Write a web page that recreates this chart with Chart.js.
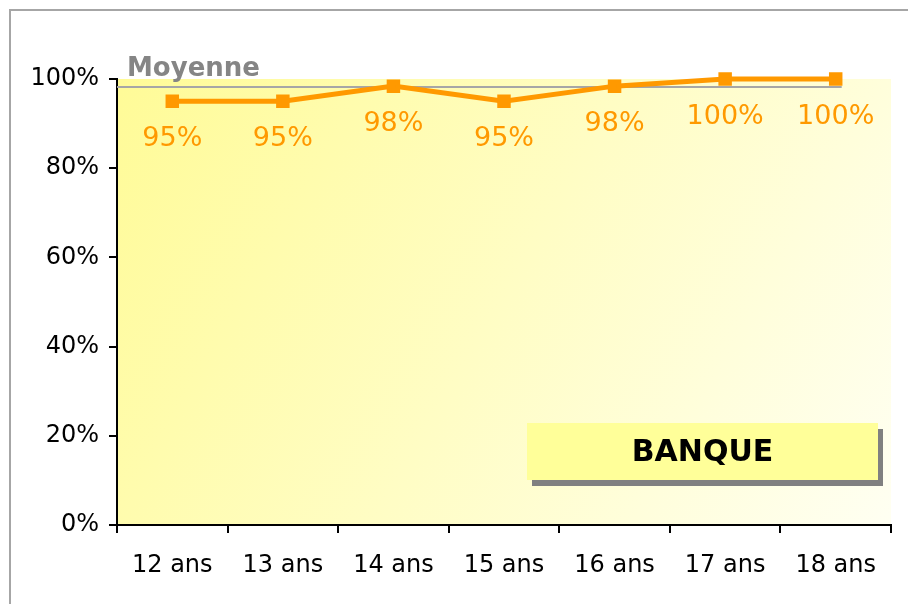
<!DOCTYPE html>
<html>
<head>
<meta charset="utf-8">
<script src="https://cdn.jsdelivr.net/npm/chart.js@4.4.1/dist/chart.umd.min.js"></script>
<style>
  html, body { margin: 0; padding: 0; background: #fff; }
  #wrap { width: 908px; height: 604px; position: relative; }
</style>
</head>
<body>
<div id="wrap"><canvas id="chart" width="908" height="604"></canvas></div>
<script>
const categories = ["12 ans", "13 ans", "14 ans", "15 ans", "16 ans", "17 ans", "18 ans"];
const tauxBanque = [95, 95, 98.4, 95, 98.4, 100, 100];
const moyenne = 98.2;
const yTicks = [0, 20, 40, 60, 80, 100];
const titreBoite = "BANQUE";

const FONT = "'DejaVu Sans', Verdana, sans-serif";
const ORANGE = "#ff9900";

// fond dégradé, cadre, ligne moyenne, étiquettes, boîte BANQUE
const decor = {
    id: "decor",
    beforeDraw(chart) {
        const {ctx, chartArea: a} = chart;
        ctx.save();
        ctx.strokeStyle = "#a6a6a6";
        ctx.lineWidth = 2;
        ctx.beginPath();
        ctx.moveTo(10, 610);
        ctx.lineTo(10, 10);
        ctx.lineTo(920, 10);
        ctx.stroke();

        const g = ctx.createLinearGradient(a.left, a.top, a.right, a.bottom);
        g.addColorStop(0, "#fffb97");
        g.addColorStop(1, "#fffff2");
        ctx.fillStyle = g;
        ctx.fillRect(a.left, a.top, a.right - a.left, a.bottom - a.top);
        ctx.restore();
    },
    beforeDatasetsDraw(chart) {
        const {ctx, scales: {y}} = chart;
        const yM = y.getPixelForValue(moyenne);
        const last = chart.getDatasetMeta(0).data.at(-1);
        ctx.save();
        ctx.strokeStyle = "#a6a6a6";
        ctx.lineWidth = 2;
        ctx.beginPath();
        ctx.moveTo(chart.chartArea.left, yM);
        ctx.lineTo(last.x + 6, yM);
        ctx.stroke();
        ctx.fillStyle = "#858585";
        ctx.font = "bold 26px " + FONT;
        ctx.textBaseline = "alphabetic";
        ctx.fillText("Moyenne", chart.chartArea.left + 10, yM - 11);
        ctx.restore();
    },
    afterDatasetsDraw(chart) {
        const {ctx} = chart;
        const meta = chart.getDatasetMeta(0);
        ctx.save();
        ctx.fillStyle = ORANGE;
        ctx.font = "27px " + FONT;
        ctx.textAlign = "center";
        ctx.textBaseline = "middle";
        meta.data.forEach((pt, i) => {
            ctx.fillText(Math.round(tauxBanque[i]) + "%", pt.x, pt.y + 38);
        });

        const bx = 527, by = 423, bw = 351, bh = 57;
        ctx.fillStyle = "#808080";
        ctx.fillRect(bx + 5, by + 6, bw, bh);
        ctx.fillStyle = "#ffff99";
        ctx.fillRect(bx, by, bw, bh);
        ctx.fillStyle = "#000";
        ctx.font = "bold 30px " + FONT;
        ctx.fillText(titreBoite, bx + bw / 2, by + bh / 2 + 2);
        ctx.restore();
    }
};

new Chart(document.getElementById("chart"), {
    type: "line",
    data: {
        labels: categories,
        datasets: [{
            data: tauxBanque,
            borderColor: ORANGE,
            backgroundColor: ORANGE,
            borderWidth: 5,
            pointStyle: "rect",
            pointRadius: 6,
            pointHoverRadius: 6,
            tension: 0,
            clip: false
        }]
    },
    options: {
        responsive: false,
        animation: false,
        events: [],
        layout: {padding: {top: 79, right: 17, left: 0, bottom: 0}},
        plugins: {legend: {display: false}, tooltip: {enabled: false}},
        scales: {
            x: {
                offset: true,
                grid: {offset: true, drawOnChartArea: false, drawTicks: true, tickLength: 8, color: "#000", lineWidth: 2},
                border: {color: "#000", width: 2},
                ticks: {color: "#000", font: {family: FONT, size: 24}, padding: 18, maxRotation: 0},
                afterFit(s) { s.height = 79; }
            },
            y: {
                min: 0,
                max: 100,
                afterBuildTicks(s) { s.ticks = yTicks.map(v => ({value: v})); },
                grid: {drawOnChartArea: false, drawTicks: true, tickLength: 8, color: "#000", lineWidth: 2},
                border: {color: "#000", width: 2},
                ticks: {color: "#000", font: {family: FONT, size: 24}, padding: 10, callback: v => v + "%"},
                afterFit(s) { s.width = 117; }
            }
        }
    },
    plugins: [decor]
});
</script>
</body>
</html>
